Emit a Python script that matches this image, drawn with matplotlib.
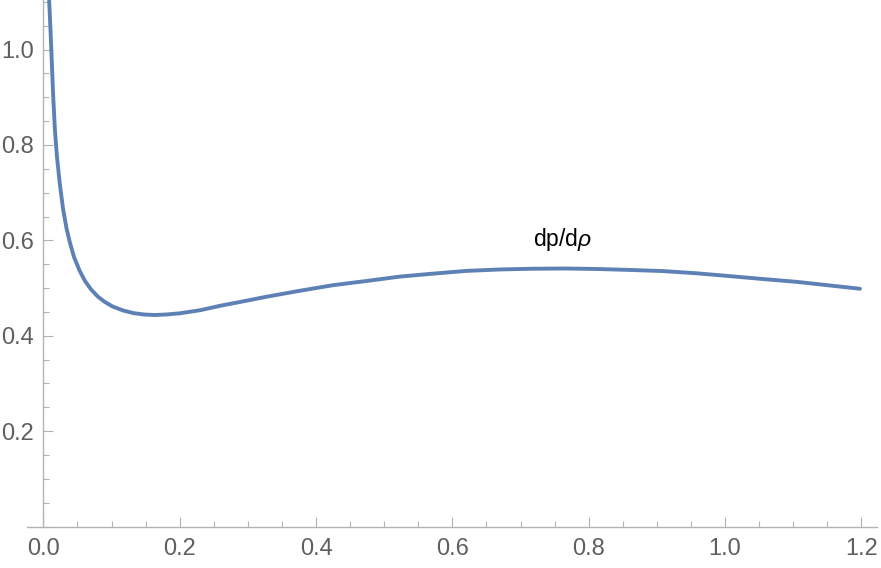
import matplotlib.pyplot as plt
from matplotlib.ticker import MultipleLocator

# values
rho = [0.0085, 0.0105, 0.0125, 0.0145, 0.017, 0.020, 0.024, 0.029, 0.034,
       0.039, 0.045, 0.053, 0.061, 0.070, 0.080, 0.090, 0.102, 0.117, 0.132,
       0.148, 0.163, 0.180, 0.200, 0.230, 0.260, 0.300, 0.3275, 0.375, 0.425,
       0.475, 0.523, 0.570, 0.621, 0.670, 0.719, 0.765, 0.812, 0.860, 0.909,
       0.958, 1.007, 1.055, 1.105, 1.150, 1.198]
dp_drho = [1.104, 1.04, 0.97, 0.90, 0.83, 0.775, 0.72, 0.665, 0.625,
           0.595, 0.565, 0.537, 0.515, 0.497, 0.482, 0.471, 0.461, 0.453, 0.4475,
           0.4445, 0.4435, 0.4445, 0.447, 0.4535, 0.463, 0.474, 0.4818, 0.494, 0.506,
           0.515, 0.524, 0.530, 0.536, 0.539, 0.5405, 0.541, 0.540, 0.538, 0.5356,
           0.531, 0.525, 0.519, 0.513, 0.506, 0.4985]

x_ticks = [0.0, 0.2, 0.4, 0.6, 0.8, 1.0, 1.2]
y_ticks = [0.2, 0.4, 0.6, 0.8, 1.0]
curve_label = r'dp/d$\rho$'

plt.rcParams['font.family'] = ['Liberation Sans', 'DejaVu Sans']
plt.rcParams['mathtext.fontset'] = 'custom'
plt.rcParams['mathtext.rm'] = 'Liberation Sans'
plt.rcParams['mathtext.it'] = 'Liberation Sans:italic'

axis_gray = '#b3b3b3'
label_gray = '#5f5f5f'

fig = plt.figure(figsize=(8.81, 5.68), dpi=100)
ax = fig.add_axes([27 / 881, 41.5 / 568, 850 / 881, 526.5 / 568])

ax.plot(rho, dp_drho, color='#5E81B5', linewidth=2.8,
        solid_capstyle='round', solid_joinstyle='round')

ax.set_xlim(-0.024, 1.223)
ax.set_ylim(0, 1.104)

for side in ['top', 'right']:
    ax.spines[side].set_visible(False)
ax.spines['left'].set_position(('data', 0))
ax.spines['bottom'].set_position(('data', 0))
for side in ['left', 'bottom']:
    ax.spines[side].set_color(axis_gray)
    ax.spines[side].set_linewidth(1.0)

ax.set_xticks(x_ticks)
ax.set_xticklabels([f'{t:.1f}' for t in x_ticks])
ax.set_yticks(y_ticks)
ax.set_yticklabels([f'{t:.1f}' for t in y_ticks])
ax.xaxis.set_minor_locator(MultipleLocator(0.05))
ax.yaxis.set_minor_locator(MultipleLocator(0.05))

ax.tick_params(which='major', direction='in', length=7, width=0.8, color=axis_gray,
               labelsize=17, labelcolor=label_gray)
ax.tick_params(which='minor', direction='in', length=4, width=0.8, color=axis_gray)
ax.tick_params(axis='x', which='major', pad=8)
ax.tick_params(axis='y', which='major', pad=7)

ax.text(0.762, 0.601, curve_label, fontsize=16.5, color='black', ha='center', va='center')

fig.savefig('out.png', dpi=100)
